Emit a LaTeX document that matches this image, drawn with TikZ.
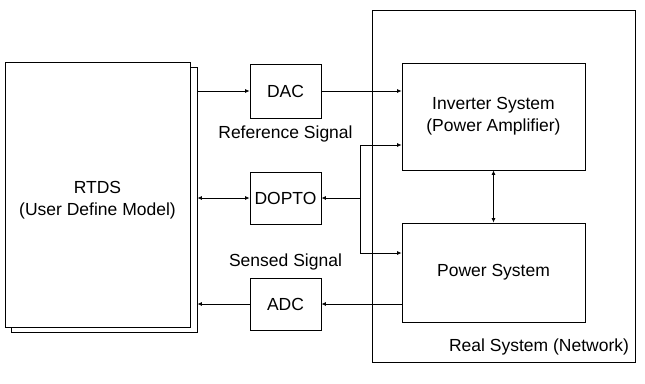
\documentclass[tikz,border=0pt]{standalone}
\usepackage{fontspec}
\setmainfont{Liberation Sans}
\usepackage{tikz}
\usetikzlibrary{positioning,arrows.meta}

\begin{document}
\begin{tikzpicture}[
    x=1pt, y=-1pt,
    >={Latex[length=4.5pt,width=4pt]},
    line width=0.8pt,
    block/.style={
        draw, fill=white,
        font=\fontsize{17.5}{22}\selectfont,
        align=center
    },
    conv/.style={block, minimum width=71pt, minimum height=54pt},
    sysbox/.style={block, minimum width=183pt},
    label/.style={
        font=\fontsize{17.5}{22}\selectfont,
        inner sep=0pt
    }
]

\useasboundingbox (0,0) rectangle (645,383);

% Real system frame
\node[draw, minimum width=263pt, minimum height=352pt] (real) at (503.5,186) {};
\node[label, anchor=south east] at ([shift={(-6pt,7pt)}]real.south east)
{Real System (Network)};

% RTDS (two sheets)
\node[block, minimum width=186pt, minimum height=265pt] (rtdsback) at (104,199.5) {};
\node[block, minimum width=185pt, minimum height=265pt] (rtds) at (97.5,194.5) {};
\node[label, align=center, below=-14pt of rtds.center] (rtdstext)
{RTDS\\(User Define Model)};

% ---- Converters ----

\node[conv] (dac) at (285.5,91) {DAC};
\node[label, below=7pt of dac] (refsig) {Reference Signal};

\node[conv, minimum height=52pt] (dopto) at (285.5,198) {DOPTO};

\node[conv, minimum height=52pt] (adc) at (285.5,304) {ADC};
\node[label, above=7pt of adc] (sensig) {Sensed Signal};

% ---- Real system blocks ----

\node[sysbox, minimum height=107pt] (inv) at (493.5,116.5)
{Inverter System\\(Power Amplifier)};

\node[sysbox, minimum height=99pt] (pow) at (493.5,272.5) {Power System};

% ---- Signals ----

% reference path
\draw[->] (rtdsback.east |- dac.west) -- (dac.west);
\draw[->] (dac.east) -- (dac.east -| inv.west);

% DOPTO path
\coordinate (brtop) at (360,145);
\coordinate (brbot) at (360,253);
\draw[<->] (rtdsback.east |- dopto.west) -- (dopto.west);
\draw[->] (brtop |- dopto.east) -- (dopto.east);
\draw (brtop) -- (brbot);
\draw[->] (brtop) -- (brtop -| inv.west);
\draw[->] (brbot) -- (brbot -| pow.west);

% sensed path
\draw[->] (pow.west |- adc.east) -- (adc.east);
\draw[->] (adc.west) -- (adc.west -| rtdsback.east);

% inverter <-> power system
\draw[<->] (inv.south) -- (pow.north);

\end{tikzpicture}
\end{document}
